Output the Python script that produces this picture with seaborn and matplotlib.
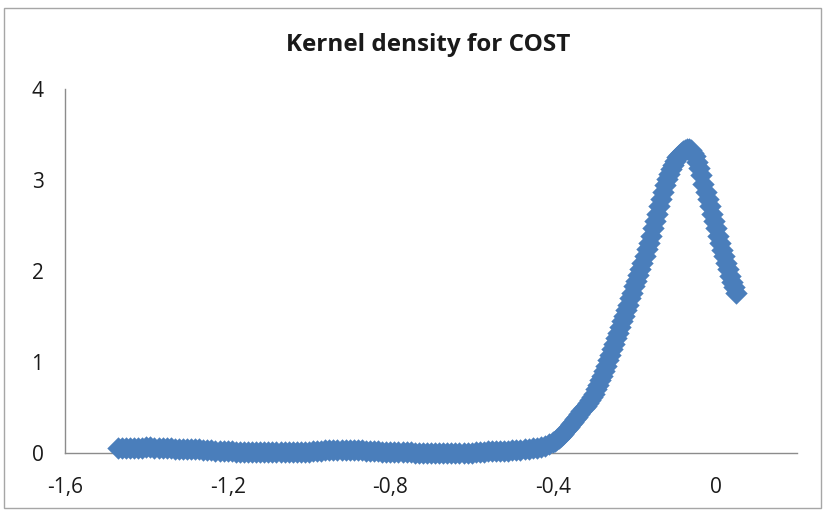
import matplotlib
matplotlib.use("Agg")
import matplotlib.pyplot as plt
import seaborn as sns
import pandas as pd
from matplotlib.patches import Rectangle

# ---- data ----
title = "Kernel density for COST"

cost_low = [-1.47, -1.46, -1.45, -1.44, -1.43, -1.42, -1.41, -1.40, -1.39, -1.38,
            -1.37, -1.36, -1.35, -1.34, -1.33, -1.32, -1.31, -1.30, -1.29, -1.28,
            -1.27, -1.26, -1.25, -1.24, -1.23, -1.22, -1.21, -1.20, -1.19, -1.18,
            -1.17, -1.16, -1.15, -1.14, -1.13, -1.12, -1.11, -1.10, -1.09, -1.08,
            -1.07, -1.06, -1.05, -1.04, -1.03, -1.02, -1.01, -1.00, -0.99, -0.98,
            -0.97, -0.96, -0.95, -0.94, -0.93, -0.92, -0.91, -0.90, -0.89, -0.88,
            -0.87, -0.86, -0.85, -0.84, -0.83, -0.82, -0.81, -0.80, -0.79, -0.78,
            -0.77, -0.76, -0.75, -0.74, -0.73, -0.72, -0.71, -0.70, -0.69, -0.68,
            -0.67, -0.66, -0.65, -0.64, -0.63, -0.62, -0.61, -0.60, -0.59, -0.58,
            -0.57, -0.56, -0.55, -0.54, -0.53, -0.52, -0.51, -0.50, -0.49, -0.48,
            -0.47, -0.46, -0.45, -0.44, -0.43, -0.42, -0.41]
dens_low = [0.05, 0.05, 0.05, 0.05, 0.05, 0.06, 0.06, 0.07, 0.07, 0.06,
            0.06, 0.05, 0.05, 0.05, 0.04, 0.04, 0.04, 0.04, 0.04, 0.04,
            0.04, 0.03, 0.03, 0.03, 0.02, 0.02, 0.02, 0.02, 0.02, 0.01,
            0.01, 0.01, 0.01, 0.01, 0.01, 0.01, 0.01, 0.01, 0.01, 0.01,
            0.01, 0.01, 0.01, 0.01, 0.01, 0.01, 0.01, 0.01, 0.02, 0.02,
            0.02, 0.03, 0.03, 0.03, 0.03, 0.03, 0.03, 0.03, 0.03, 0.03,
            0.03, 0.02, 0.02, 0.02, 0.02, 0.01, 0.01, 0.01, 0.01, 0.01,
            0.01, 0.01, 0.01, 0.005, 0.00, 0.00, 0.00, 0.00, 0.00, 0.00,
            0.00, 0.00, 0.00, 0.00, 0.00, 0.00, 0.00, 0.005, 0.01, 0.01,
            0.01, 0.02, 0.02, 0.02, 0.02, 0.02, 0.02, 0.03, 0.03, 0.03,
            0.04, 0.04, 0.05, 0.06, 0.07, 0.08, 0.10]

cost_peak = [-0.400, -0.395, -0.390, -0.385, -0.380, -0.375, -0.370, -0.365, -0.360, -0.355,
             -0.350, -0.345, -0.340, -0.335, -0.330, -0.325, -0.320, -0.315, -0.310, -0.305,
             -0.300, -0.295, -0.290, -0.285, -0.280, -0.275, -0.270, -0.265, -0.260, -0.255,
             -0.250, -0.245, -0.240, -0.235, -0.230, -0.225, -0.220, -0.215, -0.210, -0.205,
             -0.200, -0.195, -0.190, -0.185, -0.180, -0.175, -0.170, -0.165, -0.160, -0.155,
             -0.150, -0.145, -0.140, -0.135, -0.130, -0.125, -0.120, -0.115, -0.110, -0.105,
             -0.100, -0.095, -0.090, -0.085, -0.080, -0.075, -0.070, -0.065, -0.060, -0.055,
             -0.050, -0.045, -0.040, -0.035, -0.030, -0.025, -0.020, -0.015, -0.010, -0.005,
             0.000, 0.005, 0.010, 0.015, 0.020, 0.025, 0.030, 0.035, 0.040, 0.045, 0.050]
dens_peak = [0.12, 0.13, 0.15, 0.17, 0.19, 0.21, 0.24, 0.26, 0.29, 0.32,
             0.34, 0.37, 0.40, 0.43, 0.46, 0.49, 0.52, 0.55, 0.58, 0.62,
             0.65, 0.70, 0.75, 0.80, 0.85, 0.90, 0.96, 1.02, 1.08, 1.14,
             1.20, 1.26, 1.32, 1.38, 1.45, 1.51, 1.57, 1.63, 1.70, 1.76,
             1.83, 1.89, 1.96, 2.02, 2.09, 2.17, 2.24, 2.31, 2.39, 2.47,
             2.55, 2.63, 2.71, 2.79, 2.87, 2.94, 3.01, 3.07, 3.12, 3.17,
             3.21, 3.25, 3.28, 3.30, 3.32, 3.33, 3.34, 3.34, 3.33, 3.30,
             3.26, 3.20, 3.13, 3.05, 2.96, 2.87, 2.79, 2.71, 2.63, 2.55,
             2.47, 2.39, 2.31, 2.23, 2.16, 2.09, 2.02, 1.95, 1.88, 1.82, 1.76]

x_ticks = [-1.6, -1.2, -0.8, -0.4, 0.0]
x_tick_labels = ["-1,6", "-1,2", "-0,8", "-0,4", "0"]
y_ticks = [0, 1, 2, 3, 4]
y_tick_labels = ["0", "1", "2", "3", "4"]

df = pd.DataFrame({"cost": cost_low + cost_peak, "density": dens_low + dens_peak})

# ---- style ----
sns.set_style("white")
plt.rcParams["font.family"] = ["Open Sans", "DejaVu Sans"]

W, H = 824, 512
fig = plt.figure(figsize=(W / 100, H / 100), dpi=100)
fig.patch.set_facecolor("white")

# chart-area border
fig.add_artist(Rectangle((4 / W, 4 / H), (W - 7) / W, (H - 12) / H,
                         transform=fig.transFigure, fill=False,
                         edgecolor="#a6a6a6", linewidth=1.0))

ax = fig.add_axes([65 / W, 59 / H, 732 / W, 364 / H])
ax.set_facecolor("white")

blue = "#4A7EBB"
sns.scatterplot(data=df, x="cost", y="density", ax=ax, marker="D", s=130,
                color=blue, edgecolor=blue, linewidth=0, clip_on=False,
                legend=False, zorder=3)

ax.set_xlim(-1.6, 0.2)
ax.set_ylim(0, 4)
ax.set_xticks(x_ticks)
ax.set_xticklabels(x_tick_labels)
ax.set_yticks(y_ticks)
ax.set_yticklabels(y_tick_labels)
ax.set_xlabel("")
ax.set_ylabel("")

for side in ["top", "right"]:
    ax.spines[side].set_visible(False)
for side in ["left", "bottom"]:
    ax.spines[side].set_color("#8c8c8c")
    ax.spines[side].set_linewidth(1.0)

ax.tick_params(axis="both", which="major", direction="out", length=5.5,
               width=1.0, color="#8c8c8c", labelsize=15, labelcolor="#1a1a1a")
ax.tick_params(axis="x", pad=12)
ax.tick_params(axis="y", pad=10)

fig.text(428 / W, 1 - 45 / H, title, ha="center", va="center",
         fontsize=17.5, fontweight="bold", color="#1a1a1a")

fig.savefig("out.png", dpi=100, facecolor="white")
